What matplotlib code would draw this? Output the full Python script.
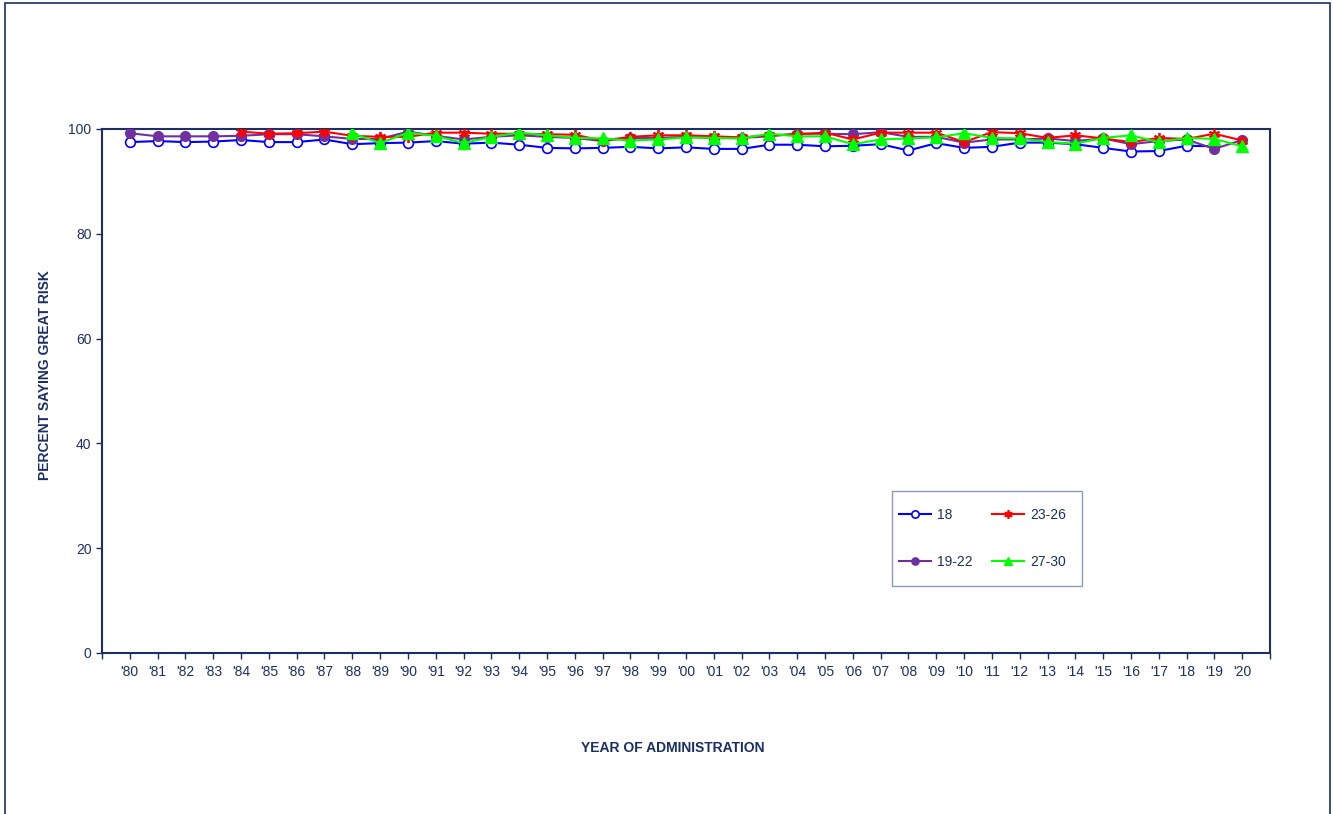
import matplotlib
matplotlib.use("Agg")
import matplotlib.pyplot as plt
from matplotlib.patches import Rectangle
import numpy as np

years = ["'80", "'81", "'82", "'83", "'84", "'85", "'86", "'87", "'88", "'89",
         "'90", "'91", "'92", "'93", "'94", "'95", "'96", "'97", "'98", "'99",
         "'00", "'01", "'02", "'03", "'04", "'05", "'06", "'07", "'08", "'09",
         "'10", "'11", "'12", "'13", "'14", "'15", "'16", "'17", "'18", "'19", "'20"]

age18 = [97.5, 97.7, 97.5, 97.6, 97.9, 97.5, 97.5, 98.0, 97.1, 97.3,
         97.4, 97.7, 97.2, 97.4, 97.0, 96.4, 96.3, 96.4, 96.6, 96.3,
         96.5, 96.2, 96.2, 97.0, 97.0, 96.7, 96.8, 97.1, 95.9, 97.3,
         96.4, 96.6, 97.4, 97.4, 97.1, 96.4, 95.7, 95.8, 96.8, 96.7, None]

age19_22 = [99.2, 98.6, 98.6, 98.6, 98.7, 99.0, 99.0, 98.6, 98.1, 98.1,
            99.5, 98.7, 98.0, 98.5, 98.8, 98.5, 98.3, 97.7, 98.3, 98.3,
            98.5, 98.3, 98.3, 98.6, 99.1, 99.1, 99.0, 99.4, 98.5, 98.5,
            97.4, 98.0, 98.0, 98.2, 97.7, 98.2, 97.1, 97.7, 98.0, 96.2, 97.9]

age23_26 = [None, None, None, None, 99.5, 99.1, 99.2, 99.5, 98.7, 98.5,
            98.5, 99.3, 99.3, 99.1, 99.1, 99.0, 98.9, 97.8, 98.5, 98.8,
            98.8, 98.6, 98.4, 98.8, 99.0, 99.3, 98.0, 99.3, 99.3, 99.3,
            97.5, 99.4, 99.2, 98.3, 98.8, 98.2, 97.5, 98.3, 98.1, 99.1, 97.8]

age27_30 = [None, None, None, None, None, None, None, None, 99.2, 97.3,
            99.3, 98.7, 97.3, 98.5, 99.3, 98.8, 98.3, 98.2, 97.8, 98.0,
            98.4, 98.3, 98.2, 99.1, 98.6, 98.6, 97.1, 98.0, 98.2, 98.4,
            99.2, 98.3, 98.2, 97.5, 97.2, 98.3, 98.8, 97.5, 98.3, 98.1, 96.7]

def arr(v):
    return np.array([np.nan if x is None else x for x in v], dtype=float)

navy = "#1b2f66"
plt.rcParams['font.family'] = ['Liberation Sans', 'DejaVu Sans']

W, H = 1333, 814
AX_L, AX_R, AX_T, AX_B = 102, 1270, 129, 653
aw, ah = AX_R - AX_L, AX_B - AX_T

def axx(px):
    return (px - AX_L) / aw

def axy(py):
    return (AX_B - py) / ah

fig = plt.figure(figsize=(W / 100, H / 100), dpi=100)
fig.patches.append(Rectangle((5 / W, -0.01), 1325 / W, 1 - 3 / H + 0.01,
                             transform=fig.transFigure, fill=False,
                             edgecolor=navy, linewidth=1.2))
ax = fig.add_axes([AX_L / W, 1 - AX_B / H, aw / W, ah / H])

x = np.arange(len(years))
ax.plot(x, arr(age18), color="#0000ff", lw=1.5, marker="o", ms=7,
        mfc="white", mec="#0000ff", mew=1.2, label="18", zorder=3)
ax.plot(x, arr(age19_22), color="#7030a0", lw=1.5, marker="o", ms=7,
        mfc="#7030a0", mec="#7030a0", label="19-22", zorder=4)
ax.plot(x, arr(age23_26), color="#ff0000", lw=1.5, marker=(6, 2, 0), ms=8,
        mew=1.3, label="23-26", zorder=5)
ax.plot(x, arr(age27_30), color="#00ff00", lw=1.5, marker="^", ms=8,
        mfc="#00ff00", mec="#00ff00", label="27-30", zorder=6)

ax.set_xlim(-1, len(years))
ax.set_ylim(0, 100)
ax.set_xticks(np.arange(-1, len(years) + 1))
ax.set_xticklabels([""] + years + [""])
ax.set_yticks([0, 20, 40, 60, 80, 100])
ax.tick_params(axis='both', colors=navy, labelcolor=navy, labelsize=10,
               direction='out', length=4, width=1)
ax.tick_params(axis='x', pad=5)
for s in ax.spines.values():
    s.set_color(navy)
    s.set_linewidth(1.5)

ax.set_xlabel("YEAR OF ADMINISTRATION", color=navy, fontsize=10,
              fontweight='bold', va='center')
ax.xaxis.set_label_coords(axx(673), axy(748))
ax.set_ylabel("PERCENT SAYING GREAT RISK", color=navy, fontsize=10,
              fontweight='bold', va='center')
ax.yaxis.set_label_coords(axx(45), axy(375))

# legend frame
ax.add_patch(Rectangle((axx(892), axy(586)), axx(1082) - axx(892), axy(491) - axy(586),
                       transform=ax.transAxes, fill=False, edgecolor="#8a9ab8",
                       linewidth=1.0, zorder=7, clip_on=False))
leg = ax.legend(ncol=2, loc='upper left', bbox_to_anchor=(axx(899), axy(508)),
                frameon=False, fontsize=10, handlelength=2.3,
                labelspacing=2.35, columnspacing=1.45, borderpad=0,
                handletextpad=0.4, markerscale=0.75, borderaxespad=0)
for t in leg.get_texts():
    t.set_color(navy)

fig.savefig("out.png", dpi=100)
